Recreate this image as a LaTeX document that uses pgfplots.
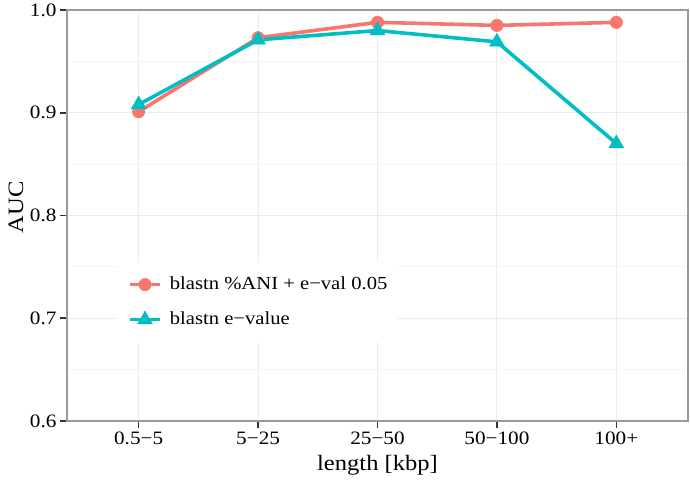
\documentclass[border=0pt]{standalone}
\usepackage{fontspec}
\setmainfont{Liberation Serif}[FakeStretch=1.12]
\usepackage{pgfplots}
\pgfplotsset{compat=1.18}
\definecolor{cRed}{HTML}{F8766D}
\definecolor{cTeal}{HTML}{00BFC4}
\definecolor{gmaj}{HTML}{EBEBEB}
\definecolor{gmin}{HTML}{F4F4F4}
\definecolor{bord}{HTML}{9A9A9A}
\definecolor{tickc}{HTML}{333333}
\begin{document}
\begin{tikzpicture}
\begin{axis}[
  scale only axis, width=621bp, height=411bp,
  xmin=0.4, xmax=5.6, ymin=0.6, ymax=1.0,
  xtick={1,2,3,4,5},
  xticklabels={0.5−5,5−25,25−50,50−100,100+},
  ytick={0.6,0.7,0.8,0.9,1.0},
  yticklabels={0.6,0.7,0.8,0.9,1.0},
  minor ytick={0.65,0.75,0.85,0.95},
  grid=both,
  major grid style={gmaj, line width=1bp},
  minor grid style={gmin, line width=1bp},
  axis line style={bord, line width=1.2bp},
  tick style={tickc, line width=1.6bp},
  tick align=outside, major tick length=7bp, minor tick length=0pt,
  xtick pos=bottom, ytick pos=left,
  ticklabel style={font=\fontsize{19}{20}\selectfont, text=black},
  xlabel={length [kbp]}, ylabel={AUC},
  label style={font=\fontsize{22}{24}\selectfont},
  x label style={at={(axis description cs:0.5,-0.107)}, anchor=center},
  y label style={at={(axis description cs:-0.0821,0.52)}, anchor=center, rotate=0},
  legend style={at={(0.0805,0.387)}, anchor=north west, draw=none, fill=white,
    font=\fontsize{18.5}{20}\selectfont,
    nodes={inner sep=0pt, text height=13bp, text depth=4bp},
    row sep=18bp, column sep=8bp, inner xsep=11bp, inner ysep=14bp},
  legend cell align=left,
  legend image code/.code={\draw[mark repeat=2,mark phase=2] plot coordinates {(0bp,0bp)(15bp,0bp)(30bp,0bp)};},
]
\addplot[cRed, line width=3.6bp, mark=*, mark size=6.2bp, mark options={solid, fill=cRed, draw=cRed, line width=0.5bp}]
  coordinates {(1,0.901)(2,0.973)(3,0.988)(4,0.985)(5,0.988)};
\addlegendentry{blastn \%ANI + e−val 0.05}
\addplot[cTeal, line width=3.6bp, mark=triangle*, mark size=8.5bp, mark options={solid, fill=cTeal, draw=cTeal, line width=0.5bp}]
  coordinates {(1,0.908)(2,0.971)(3,0.980)(4,0.969)(5,0.870)};
\addlegendentry{blastn e−value}
\end{axis}
\pgfresetboundingbox
\path ([shift={(-67bp,-60bp)}]current axis.south west) rectangle ([shift={(2bp,10bp)}]current axis.north east);
\end{tikzpicture}
\end{document}
